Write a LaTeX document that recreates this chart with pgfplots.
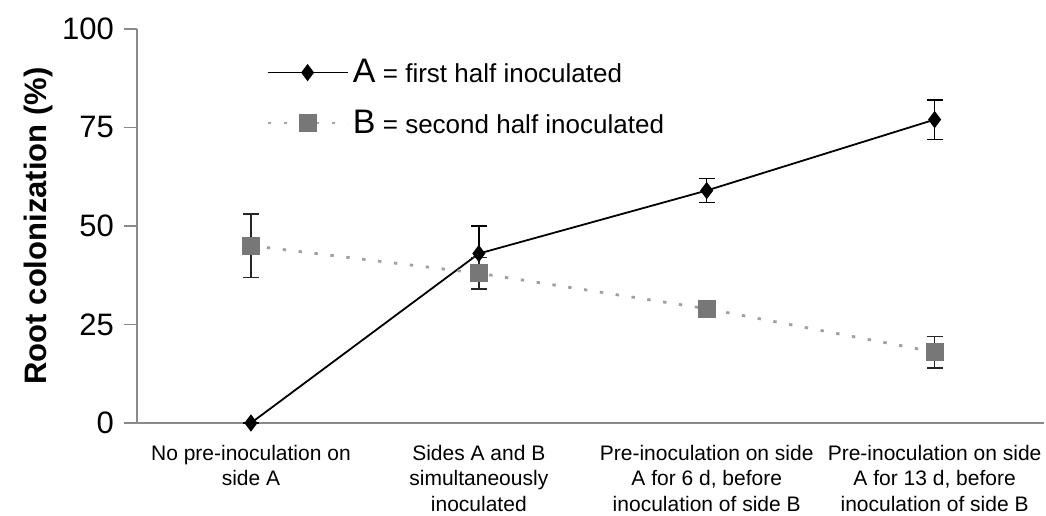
\documentclass[border=0pt]{standalone}
\usepackage{pgfplots}
\pgfplotsset{compat=1.18}
\usepackage{fontspec}
\setmainfont{Liberation Sans}
\usetikzlibrary{calc}
\definecolor{axgray}{HTML}{8A8A8A}
\definecolor{bmark}{HTML}{777777}
\definecolor{bline}{HTML}{A0A0A0}
\begin{document}
\begin{tikzpicture}
\begin{axis}[
  name=ax,
  scale only axis,
  width=453.5pt, height=197pt,
  xmin=-0.5, xmax=3.48,
  ymin=0, ymax=100,
  axis x line=bottom, axis y line=left,
  axis line style={-, axgray, line width=0.8pt},
  clip=false,
  ytick={0,25,50,75,100},
  tick align=outside,
  major tick length=6.5pt,
  ytick style={axgray, line width=0.8pt},
  xtick={0,1,2,3},
  xtick style={draw=none},
  extra x ticks={0.5,1.5,2.5},
  extra x tick labels={},
  extra x tick style={major tick length=3pt, tick style={draw=axgray, line width=0.8pt}},
  xticklabels={{No pre-inoculation on\\side A},{Sides A and B\\simultaneously\\inoculated},{Pre-inoculation on side\\A for 6 d, before\\inoculation of side B},{Pre-inoculation on side\\A for 13 d, before\\inoculation of side B}},
  xticklabel style={align=center, font=\fontsize{10.5}{12.75}\selectfont, yshift=-1pt},
  yticklabel style={font=\fontsize{15.5}{17}\selectfont, xshift=-1.5pt},
  /pgf/number format/assume math mode=true,
  ylabel={\textbf{Root colonization (\%)}},
  ylabel style={font=\fontsize{15.5}{17}\selectfont, yshift=-2pt},
  legend style={draw=none, fill=none, at={(0.142,0.934)}, anchor=north west,
    font=\fontsize{13}{15}\selectfont, row sep=8pt, inner sep=0pt,
    nodes={xshift=2pt}},
  legend cell align=left,
  legend image code/.code={\draw[mark repeat=2,mark phase=2] plot coordinates {(0pt,0pt) (20pt,0pt) (40pt,0pt)};},
]
\addplot[black, line width=0.9pt, mark=diamond*, mark size=3.6pt, mark options={solid, fill=black},
  error bars/.cd, y dir=both, y explicit,
  error mark options={rotate=90, mark size=4pt, black, line width=0.7pt},
  error bar style={black, solid, line width=0.7pt}]
  coordinates {(0,0) +- (0,0) (1,43) +- (0,7) (2,59) +- (0,3) (3,77) +- (0,5)};
\addlegendentry{{\fontsize{17}{17}\selectfont A} = first half inoculated}
\addplot[bline, line width=1.4pt, dash pattern=on 1.7pt off 6.3pt, mark=square*, mark size=3.8pt,
  mark options={solid, fill=bmark, draw=bmark},
  error bars/.cd, y dir=both, y explicit,
  error mark options={rotate=90, mark size=4pt, black!85, solid, line width=0.7pt},
  error bar style={black!85, solid, line width=0.7pt}]
  coordinates {(0,45) +- (0,8) (1,38) +- (0,4) (2,29) +- (0,0.5) (3,18) +- (0,4)};
\addlegendentry{{\fontsize{17}{17}\selectfont B} = second half inoculated}
\end{axis}
\pgfresetboundingbox
\path ($(ax.south west)+(-68.5pt,-46.5pt)$) rectangle ($(ax.north east)+(1pt,14.5pt)$);
\end{tikzpicture}
\end{document}
